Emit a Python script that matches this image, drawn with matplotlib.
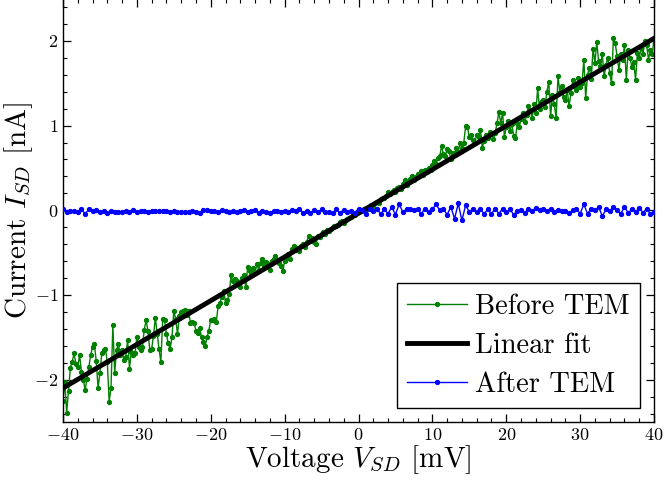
import numpy as np
import matplotlib
matplotlib.use("Agg")
import matplotlib.pyplot as plt
from matplotlib.ticker import MultipleLocator

plt.rcParams['font.family'] = 'serif'
plt.rcParams['font.serif'] = ['cmr10']
plt.rcParams['mathtext.fontset'] = 'cm'
plt.rcParams['axes.formatter.use_mathtext'] = True

# ---- data ----
v_before = np.arange(-40, 40.001, 0.25)
i_before = [
    -2.25, -2.03, -2.39, -2.13, -1.86, -1.79, -1.69, -1.81,
    -1.85, -1.71, -1.91, -2.00, -2.12, -1.99, -1.85, -1.71,
    -1.61, -1.58, -1.78, -2.10, -1.92, -1.69, -1.65, -1.64,
    -1.79, -2.26, -2.10, -1.36, -1.92, -1.65, -1.58, -1.71,
    -1.65, -1.77, -1.73, -1.53, -1.87, -1.67, -1.71, -1.69,
    -1.50, -1.61, -1.65, -1.61, -1.41, -1.30, -1.42, -1.65,
    -1.64, -1.48, -1.27, -1.46, -1.64, -1.79, -1.28, -1.30,
    -1.46, -1.57, -1.64, -1.50, -1.19, -1.28, -1.46, -1.25,
    -1.20, -1.19, -1.18, -1.24, -1.19, -1.33, -1.32, -1.33,
    -1.42, -1.45, -1.39, -1.50, -1.56, -1.60, -1.50, -1.42,
    -1.29, -1.30, -1.28, -1.32, -1.13, -1.09, -1.02, -0.95,
    -1.09, -1.06, -0.99, -0.77, -0.84, -0.81, -0.83, -0.87,
    -0.91, -0.80, -0.77, -0.91, -0.67, -0.72, -0.75, -0.68,
    -0.73, -0.64, -0.70, -0.62, -0.58, -0.66, -0.61, -0.64,
    -0.71, -0.60, -0.57, -0.54, -0.59, -0.62, -0.66, -0.72,
    -0.60, -0.56, -0.52, -0.58, -0.46, -0.42, -0.47, -0.44,
    -0.48, -0.42, -0.40, -0.43, -0.37, -0.30, -0.36, -0.33,
    -0.37, -0.40, -0.30, -0.31, -0.28, -0.26, -0.28, -0.23,
    -0.24, -0.22, -0.20, -0.18, -0.19, -0.17, -0.14, -0.13,
    -0.15, -0.11, -0.10, -0.09, -0.08, -0.05, -0.06, -0.03,
    -0.02, 0.00, -0.01, 0.02, 0.03, 0.02, 0.05, 0.06,
    0.05, 0.09, 0.10, 0.08, 0.13, 0.15, 0.14, 0.17,
    0.22, 0.19, 0.21, 0.24, 0.22, 0.26, 0.27, 0.25,
    0.31, 0.36, 0.30, 0.33, 0.37, 0.40, 0.36, 0.39,
    0.43, 0.41, 0.46, 0.42, 0.48, 0.45, 0.50, 0.47,
    0.53, 0.58, 0.55, 0.62, 0.64, 0.76, 0.66, 0.64,
    0.72, 0.70, 0.61, 0.68, 0.66, 0.73, 0.69, 0.80,
    0.74, 0.80, 0.99, 0.98, 0.86, 0.89, 0.83, 0.80,
    0.89, 0.86, 0.95, 0.74, 0.82, 0.89, 0.85, 0.93,
    0.91, 0.84, 0.91, 1.03, 1.16, 1.03, 1.15, 0.87,
    0.98, 1.06, 0.94, 1.02, 0.88, 0.85, 1.03, 0.98,
    1.08, 1.15, 1.04, 1.12, 1.23, 1.18, 1.09, 1.26,
    1.15, 1.44, 1.19, 1.28, 1.30, 1.22, 1.40, 1.52,
    1.11, 1.36, 1.25, 1.09, 1.58, 1.40, 1.47, 1.34,
    1.30, 1.42, 1.23, 1.38, 1.54, 1.46, 1.42, 1.56,
    1.45, 1.50, 1.78, 1.33, 1.60, 1.68, 1.55, 1.91,
    1.74, 1.99, 1.76, 1.70, 1.84, 1.58, 1.72, 1.80,
    1.62, 1.50, 2.03, 1.97, 1.82, 1.66, 1.84, 1.78,
    1.95, 1.54, 1.89, 1.80, 1.69, 1.75, 1.54, 1.86,
    1.80, 1.92, 1.84, 2.00, 1.95, 1.78, 1.89, 1.84,
    2.03,
]

fit_v = [-40, 40]
fit_i = [-2.10, 2.03]

v_after = np.arange(-40, 40.001, 0.5)
i_after = [
    0.02, -0.02, -0.01, -0.01, -0.02, 0.01, -0.04, 0.01,
    -0.01, 0.00, -0.02, -0.01, -0.035, -0.01, -0.02, -0.02,
    -0.02, -0.01, -0.02, 0.00, -0.025, -0.01, -0.01, -0.015,
    -0.01, -0.005, -0.01, -0.005, -0.01, -0.015, -0.01, -0.015,
    -0.015, -0.015, -0.015, -0.01, -0.015, -0.035, 0.00, 0.00,
    -0.005, -0.01, -0.02, 0.00, -0.01, -0.025, -0.005, -0.02,
    -0.005, 0.00, -0.02, -0.01, 0.005, -0.03, -0.005, -0.02,
    -0.03, -0.01, -0.01, -0.025, -0.01, -0.02, 0.005, -0.01,
    0.01, -0.03, -0.005, -0.03, 0.00, -0.02, 0.01, -0.02,
    -0.02, -0.03, 0.01, -0.03, 0.005, -0.02, -0.01, -0.03,
    0.02,
    0.00, -0.04, 0.02, -0.01, 0.01, -0.04, 0.01, -0.04,
    0.04, -0.05, 0.07, -0.02, 0.01, 0.01, 0.00, 0.01,
    -0.04, 0.02, -0.02, 0.01, 0.07, 0.00, 0.01, -0.05,
    0.04, -0.10, 0.08, -0.12, 0.06, -0.02, 0.02, -0.02,
    0.01, -0.04, 0.01, -0.04, 0.02, -0.04, 0.02, -0.02,
    0.01, -0.05, -0.01, 0.00, -0.03, 0.02, -0.01, 0.03,
    0.00, 0.01, -0.01, 0.02, -0.02, 0.00, -0.01, -0.01,
    -0.03, 0.00, 0.02, -0.04, 0.07, -0.04, 0.02, 0.00,
    0.04, -0.07, 0.01, -0.01, 0.04, 0.00, -0.04, 0.04,
    -0.03, 0.01, -0.02, 0.03, -0.03, 0.02, -0.04, -0.02,
]

x_ticks = [-40, -30, -20, -10, 0, 10, 20, 30, 40]
y_ticks = [-2, -1, 0, 1, 2]

# ---- plot ----
fig = plt.figure(figsize=(6.65, 4.83), dpi=100)
ax = fig.add_axes([0.0947, 0.1263, 0.9835 - 0.0947, 1.003 - 0.1263])

ax.plot(v_before, i_before, '-o', color='#007f00', lw=1.0, ms=2.8,
        label='Before TEM', zorder=2)
ax.plot(fit_v, fit_i, '-', color='black', lw=3.5, label='Linear fit', zorder=3)
ax.plot(v_after, i_after, '-o', color='#0000ff', lw=1.0, ms=2.8,
        label='After TEM', zorder=4)

ax.set_xlim(-40, 40)
ax.set_ylim(-2.5, 2.5)
ax.set_xticks(x_ticks)
ax.set_yticks(y_ticks)
ax.xaxis.set_minor_locator(MultipleLocator(2))
ax.yaxis.set_minor_locator(MultipleLocator(0.2))
ax.tick_params(which='both', direction='in', top=True, right=True, labelsize=13)
ax.tick_params(which='major', length=6, width=0.9)
ax.tick_params(which='minor', length=3, width=0.8)
for s in ax.spines.values():
    s.set_linewidth(1.0)

ax.set_xlabel(r'Voltage $V_{SD}$ [mV]', fontsize=21, labelpad=0)
ax.set_ylabel(r'Current $I_{SD}$ [nA]', fontsize=21, labelpad=-1)

leg = ax.legend(loc='lower right', fontsize=20.5, frameon=True, fancybox=False,
                edgecolor='black', framealpha=1, handlelength=2.1,
                handletextpad=0.3, borderaxespad=0.5, labelspacing=0.45,
                borderpad=0.35)
leg.get_frame().set_linewidth(1.0)

fig.savefig('out.png', dpi=100)
